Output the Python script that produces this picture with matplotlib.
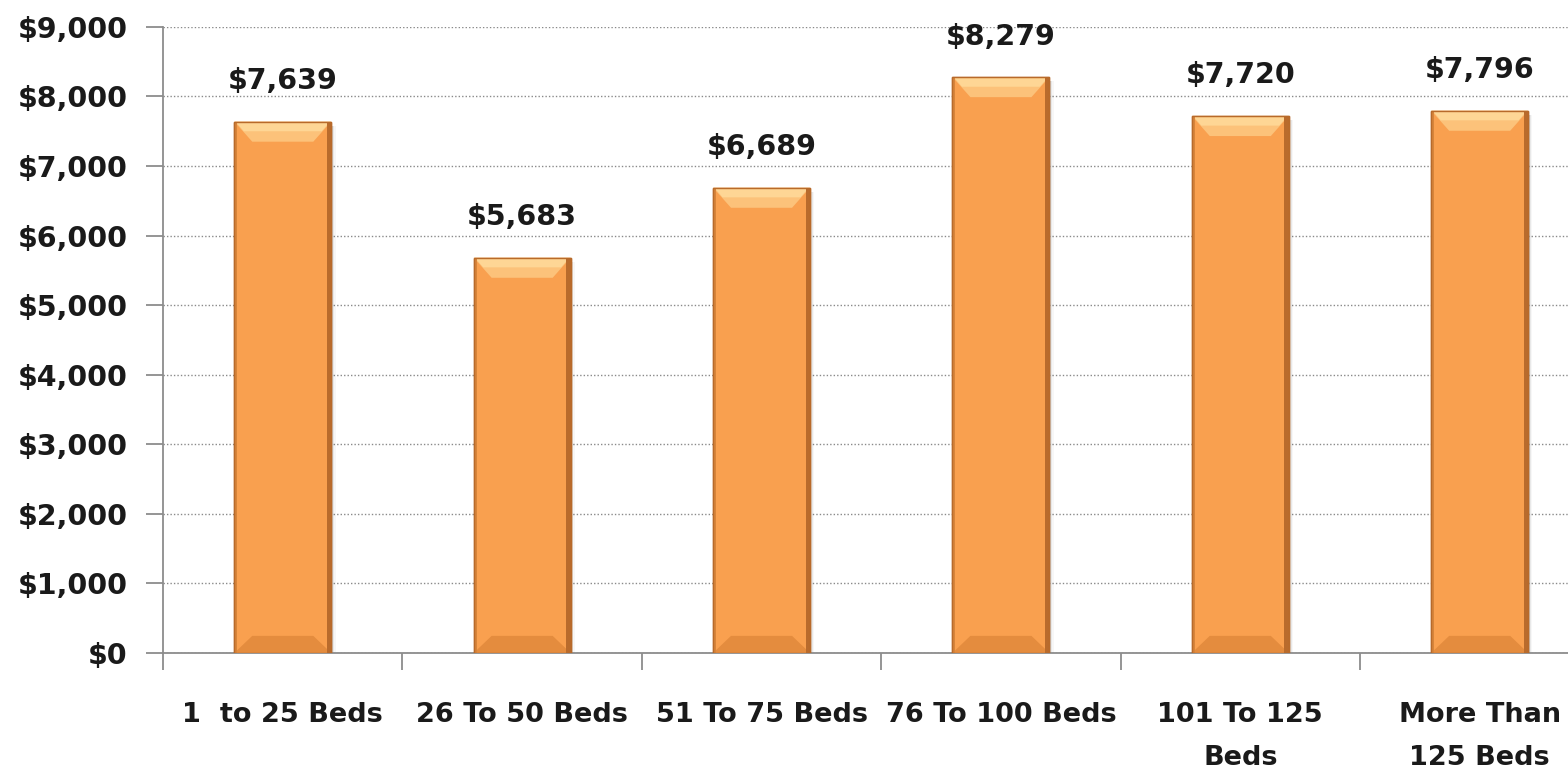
import matplotlib
matplotlib.use("Agg")
import matplotlib.pyplot as plt
import numpy as np

categories = ["1  to 25 Beds", "26 To 50 Beds", "51 To 75 Beds", "76 To 100 Beds",
              "101 To 125\nBeds", "More Than\n125 Beds"]
values = [7639, 5683, 6689, 8279, 7720, 7796]
y_ticks = [0, 1000, 2000, 3000, 4000, 5000, 6000, 7000, 8000, 9000]

plt.rcParams['font.family'] = ['DejaVu Sans']
plt.rcParams['font.weight'] = 'bold'

fig = plt.figure(figsize=(15.68, 7.75), dpi=100)
ax = fig.add_axes([0.104, 0.1574, 0.916, 0.808])

x = np.arange(len(categories))
bars = ax.bar(x, values, width=0.405, color='#F9A04F', edgecolor='#B86A2A', linewidth=1.0, zorder=3)

# bevel-like decoration derived from each bar's geometry
bev_y = 290      # bevel height in data units
bev_x = 0.075    # bevel inset in category units
for b in bars:
    x0, w, h = b.get_x(), b.get_width(), b.get_height()
    x1 = x0 + w
    # soft shadow to the right
    for k, a in enumerate([0.10, 0.06, 0.03]):
        ax.fill([x1, x1 + 0.006 * (k + 1), x1 + 0.006 * (k + 1), x1], [0, 0, h - 60, h - 60],
                color='#000000', alpha=a, zorder=2, linewidth=0)
    # top bevel
    ax.fill([x0, x1, x1 - bev_x, x0 + bev_x], [h, h, h - bev_y, h - bev_y],
            color='#FCC27A', zorder=4, linewidth=0)
    ax.fill([x0 + 0.01, x1 - 0.01, x1 - 0.04, x0 + 0.04], [h - 20, h - 20, h - 140, h - 140],
            color='#FFDC9C', alpha=0.8, zorder=4, linewidth=0)
    # bottom bevel
    ax.fill([x0, x1, x1 - bev_x, x0 + bev_x], [0, 0, bev_y * 0.85, bev_y * 0.85],
            color='#E48C3E', zorder=4, linewidth=0)
    # side edges
    ax.fill([x0, x0 + 0.012, x0 + 0.012, x0], [0, 0, h, h],
            color='#D7843A', zorder=4, linewidth=0)
    ax.fill([x1 - 0.018, x1, x1, x1 - 0.018], [0, 0, h, h],
            color='#B96B2C', zorder=4, linewidth=0)
    ax.fill([x0, x1, x1, x0], [0, 0, h, h], facecolor='none',
            edgecolor='#B86A2A', linewidth=1.0, zorder=5)

for xi, v in zip(x, values):
    ax.annotate(f"${v:,}", (xi, v), xytext=(0, 19), textcoords='offset points',
                ha='center', va='bottom', fontsize=20.5, fontweight='bold', color='#1a1a1a')

ax.set_xlim(-0.5, len(categories) - 0.5)
ax.set_ylim(0, 9000)
ax.set_yticks(y_ticks)
ax.set_yticklabels([f"${t:,}" for t in y_ticks], fontsize=20.5, fontweight='bold', color='#1a1a1a')
ax.set_xticks(np.arange(len(categories) + 1) - 0.5, minor=False)
ax.set_xticklabels([])
ax.set_xticks(x, minor=True)
ax.set_xticklabels(categories, minor=True, fontsize=19.5, fontweight='bold', color='#1a1a1a',
                   va='top', linespacing=1.85)
ax.tick_params(axis='x', which='minor', length=0, pad=35)
ax.tick_params(axis='x', which='major', length=12, color='#8c8c8c', width=1.3)
ax.tick_params(axis='y', length=12, color='#8c8c8c', width=1.3, pad=13.5)

ax.yaxis.grid(True, linestyle=(0, (1, 1.5)), color='#8a8a8a', linewidth=1.0, zorder=0)
ax.set_axisbelow(True)
for s in ['top', 'right']:
    ax.spines[s].set_visible(False)
for s in ['left', 'bottom']:
    ax.spines[s].set_color('#8c8c8c')
    ax.spines[s].set_linewidth(1.3)

fig.savefig("out.png", dpi=100)
